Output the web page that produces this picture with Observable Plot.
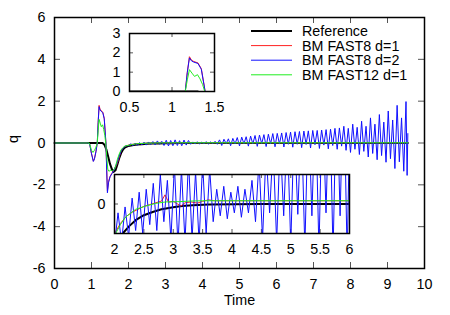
<!DOCTYPE html>
<html>
<head>
<meta charset="utf-8">
<script src="https://cdn.jsdelivr.net/npm/d3@7"></script>
<script src="https://cdn.jsdelivr.net/npm/@observablehq/plot@0.6"></script>
<style>
  html, body { margin: 0; padding: 0; background: #fff; }
  #wrap { position: relative; width: 450px; height: 315px; overflow: hidden; font-family: 'Liberation Sans', Arial, Helvetica, sans-serif; }
  #wrap svg { position: absolute; }
</style>
</head>
<body>
<div id="wrap"></div>
<script>
// ---------------- data ----------------
const seriesNames = ["Reference", "BM FAST8 d=1", "BM FAST8 d=2", "BM FAST12 d=1"];
const seriesColors = ["#000000", "#ff2020", "#1010ff", "#20ee20"];

const refT = [0, 1.30, 1.35, 1.40, 1.45, 1.50, 1.55, 1.60, 1.65, 1.70, 1.75, 1.80, 1.85, 1.90, 2.00, 2.14, 2.25, 2.36, 2.50, 2.65, 2.80, 3.00, 3.15, 3.33, 3.60, 4.00, 4.50, 9.55];
const refQ = [0, 0, -0.08, -0.30, -0.65, -1.00, -1.25, -1.38, -1.30, -1.02, -0.72, -0.48, -0.32, -0.22, -0.14, -0.10, -0.075, -0.055, -0.038, -0.027, -0.018, -0.011, -0.007, -0.0045, -0.002, -0.0005, 0, 0];

const fast8d1T = [0, 0.90, 0.95, 1.00, 1.05, 1.08, 1.12, 1.156, 1.18, 1.205, 1.23, 1.257, 1.305, 1.345, 1.39, 1.41, 1.43, 1.46, 1.50, 1.55, 1.60, 1.65, 1.69, 1.72, 1.76, 1.80, 1.85, 1.90, 2.00, 2.10, 2.20, 2.30, 2.40, 2.50, 2.60, 2.70, 2.80, 2.86, 2.92, 3.00, 3.13, 3.20, 3.30, 3.41, 3.50, 3.60, 3.70, 9.55];
const fast8d1Q = [0, 0, -0.05, -0.50, -0.87, -0.75, -0.40, 0, 1.00, 1.80, 1.62, 1.55, 1.48, 1.18, 0, -1.20, -2.30, -1.85, -1.60, -1.45, -1.30, -1.15, -1.00, -0.85, -0.60, -0.38, -0.24, -0.16, -0.10, -0.066, -0.042, -0.028, -0.018, -0.008, -0.002, 0.004, 0.010, 0.031, 0.006, 0.009, -0.007, 0.004, 0.007, 0.003, 0.009, 0.014, 0.011, 0.011];

const fast8d2T = [0, 0.90, 0.95, 1.00, 1.05, 1.08, 1.12, 1.156, 1.18, 1.205, 1.23, 1.257, 1.305, 1.345, 1.39, 1.41, 1.43, 1.46, 1.50, 1.55, 1.60, 1.65, 1.70, 1.75, 1.80, 1.85, 1.90, 1.95,
  2.00, 2.06, 2.12, 2.18, 2.24, 2.30, 2.36, 2.42, 2.48, 2.54, 2.60, 2.66, 2.72, 2.78, 2.84, 2.90, 2.96,
  3.02, 3.08, 3.14, 3.20, 3.26, 3.32, 3.38, 3.44, 3.50, 3.56, 3.62, 3.68, 3.74, 3.80, 3.86, 3.92, 3.98,
  4.04, 4.10, 4.16, 4.22, 4.28, 4.34, 4.40, 4.46, 4.52, 4.58, 4.64, 4.70, 4.76, 4.82, 4.88, 4.94,
  5.00, 5.06, 5.12, 5.18, 5.24, 5.30, 5.36, 5.42, 5.48, 5.54, 5.60, 5.66, 5.72, 5.78, 5.84, 5.90, 5.96,
  6.02, 6.08, 6.14, 6.20, 6.26, 6.32, 6.38, 6.44, 6.50, 6.56, 6.62, 6.68, 6.74, 6.80, 6.86, 6.92, 6.98,
  7.04, 7.10, 7.16, 7.22, 7.28, 7.34, 7.40, 7.46, 7.52, 7.58, 7.64, 7.70, 7.76, 7.82, 7.88, 7.94,
  8.00, 8.06, 8.12, 8.18, 8.24, 8.30, 8.36, 8.42, 8.48, 8.54, 8.60, 8.66, 8.72, 8.78, 8.84, 8.90, 8.96,
  9.02, 9.08, 9.14, 9.20, 9.26, 9.32, 9.38, 9.44, 9.50, 9.53, 9.55];
const fast8d2Q = [0, 0, -0.05, -0.52, -0.88, -0.76, -0.42, 0, 0.98, 1.74, 1.58, 1.52, 1.45, 1.15, 0, -1.25, -2.38, -1.90, -1.62, -1.47, -1.32, -1.12, -0.90, -0.62, -0.38, -0.25, -0.18, -0.12,
  -0.14, -0.03, -0.13, -0.01, -0.11, 0.02, -0.09, 0.04, -0.10, 0.05, -0.07, 0.07, -0.09, 0.10, -0.06, 0.08, -0.12,
  0.13, -0.14, 0.12, -0.13, 0.15, -0.12, 0.11, -0.13, 0.14, -0.10, 0.12, -0.06, 0.05, -0.04, 0.06, -0.05, 0.04,
  -0.03, 0.06, -0.045, 0.05, -0.03, 0.08, -0.06, 0.15, -0.12, 0.18, -0.03, 0.20, -0.13, 0.22, -0.04, 0.26,
  -0.14, 0.28, -0.035, 0.30, -0.15, 0.33, -0.04, 0.36, -0.16, 0.38, -0.03, 0.40, -0.17, 0.42, -0.04, 0.45, -0.18,
  0.46, -0.05, 0.48, -0.19, 0.50, -0.06, 0.52, -0.20, 0.54, -0.06, 0.55, -0.22, 0.57, -0.07, 0.58, -0.24, 0.60,
  -0.08, 0.60, -0.26, 0.62, -0.10, 0.64, -0.28, 0.66, -0.12, 0.70, -0.30, 0.72, -0.15, 0.80, -0.35, 0.70,
  -0.45, 0.90, -0.30, 0.75, -0.55, 1.04, -0.40, 0.80, -0.67, 1.20, -0.50, 0.90, -0.80, 1.36, -0.60, 1.00, -0.92,
  1.53, -0.75, 1.10, -1.22, 1.80, -0.90, 1.20, -1.35, 1.98, -1.55, 0.45];

const fast12d1T = [0, 0.90, 0.93, 0.96, 1.00, 1.04, 1.08, 1.12, 1.156, 1.18, 1.205, 1.235, 1.265, 1.30, 1.33, 1.36, 1.385, 1.41, 1.44, 1.47, 1.52, 1.57, 1.62, 1.66, 1.70, 1.75, 1.80, 1.85, 1.90, 2.02, 2.10, 2.19, 2.36, 2.53, 2.70, 2.87, 3.10, 3.30, 3.50, 9.55];
const fast12d1Q = [0, 0, 0.01, -0.10, -0.35, -0.45, -0.35, -0.20, 0, 0.60, 1.13, 0.95, 0.78, 0.87, 0.65, 0.36, 0, -0.60, -1.25, -1.35, -1.30, -1.32, -1.25, -1.05, -0.78, -0.52, -0.33, -0.22, -0.15, -0.10, -0.07, -0.044, -0.018, -0.007, 0.002, 0.007, 0.008, 0.010, 0.011, 0.011];

const mainXTicks = [0, 1, 2, 3, 4, 5, 6, 7, 8, 9, 10];
const mainYTicks = [-6, -4, -2, 0, 2, 4, 6];
const topInsetXTicks = [0.5, 1, 1.5];
const topInsetYTicks = [0, 1, 2, 3];
const bottomInsetXTicks = [2, 2.5, 3, 3.5, 4, 4.5, 5, 5.5, 6];
const bottomInsetYTicks = [0];

// ---------------- build ----------------
const rows = (T, Q) => T.map((t, i) => ({t, q: Q[i]}));
const series = [
  {name: seriesNames[0], color: seriesColors[0], width: 2, data: rows(refT, refQ)},
  {name: seriesNames[1], color: seriesColors[1], width: 1, data: rows(fast8d1T, fast8d1Q)},
  {name: seriesNames[2], color: seriesColors[2], width: 1, data: rows(fast8d2T, fast8d2Q)},
  {name: seriesNames[3], color: seriesColors[3], width: 1, data: rows(fast12d1T, fast12d1Q)}
];
const FONT = "'Liberation Sans', Arial, Helvetica, sans-serif";
const FS = 14.3;

function panel({xTicks, yTicks, fw, fh, tickLen, whiteFrame, clip}) {
  const marks = [];
  if (whiteFrame) marks.push(Plot.frame({fill: "white", stroke: null}));
  marks.push(
    Plot.axisX(xTicks, {tickSize: 0, tickPadding: 10, fontSize: FS, label: null, tickFormat: d => String(d)}),
    Plot.axisY(yTicks, {tickSize: 0, tickPadding: 9, fontSize: FS, label: null, tickFormat: d => String(d)}),
    Plot.ruleX(xTicks, {x: d => d, insetTop: fh - tickLen, stroke: "#555", strokeWidth: 1}),
    Plot.ruleX(xTicks, {x: d => d, insetBottom: fh - tickLen, stroke: "#555", strokeWidth: 1}),
    Plot.ruleY(yTicks, {y: d => d, insetRight: fw - tickLen, stroke: "#555", strokeWidth: 1}),
    Plot.ruleY(yTicks, {y: d => d, insetLeft: fw - tickLen, stroke: "#555", strokeWidth: 1})
  );
  for (const s of series) {
    marks.push(Plot.line(s.data, {x: "t", y: "q", stroke: s.color, strokeWidth: s.width, clip: clip}));
  }
  marks.push(Plot.frame({stroke: "black", strokeWidth: 1.5}));
  return marks;
}

const wrap = document.getElementById("wrap");

// main chart
const M = {ml: 54, mt: 17, mr: 26, mb: 47};
const mfw = 450 - M.ml - M.mr, mfh = 315 - M.mt - M.mb;
const mainPlot = Plot.plot({
  width: 450, height: 315,
  marginLeft: M.ml, marginTop: M.mt, marginRight: M.mr, marginBottom: M.mb,
  x: {domain: [0, 10]}, y: {domain: [-6, 6]},
  style: {fontFamily: FONT, fontSize: FS + "px", background: "white", color: "black", overflow: "visible"},
  marks: [
    ...panel({xTicks: mainXTicks, yTicks: mainYTicks, fw: mfw, fh: mfh, tickLen: 6, whiteFrame: false, clip: false}),
    Plot.text(["Time"], {frameAnchor: "bottom", dy: 36, fontSize: FS, fill: "black"}),
    Plot.text(["q"], {frameAnchor: "left", dx: -41, rotate: -90, fontSize: FS, fill: "black"})
  ]
});
mainPlot.style.left = "0px"; mainPlot.style.top = "0px";
wrap.appendChild(mainPlot);

function inset(frameLeft, frameTop, fw, fh, xDomain, yDomain, xTicks, yTicks) {
  const ml = 30, mt = 10, mr = 10, mb = 30;
  const p = Plot.plot({
    width: ml + fw + mr, height: mt + fh + mb,
    marginLeft: ml, marginTop: mt, marginRight: mr, marginBottom: mb,
    x: {domain: xDomain}, y: {domain: yDomain},
    style: {fontFamily: FONT, fontSize: FS + "px", background: "transparent", color: "black", overflow: "visible"},
    marks: panel({xTicks, yTicks, fw, fh, tickLen: 4, whiteFrame: true, clip: true})
  });
  p.style.left = (frameLeft - ml) + "px";
  p.style.top = (frameTop - mt) + "px";
  wrap.appendChild(p);
}
inset(129, 33, 85, 58, [0.5, 1.5], [0, 3], topInsetXTicks, topInsetYTicks);
inset(114, 174, 235, 59, [2, 6], [-0.1, 0.1], bottomInsetXTicks, bottomInsetYTicks);

// legend (inside the main frame, top right)
const leg = d3.select(wrap).append("svg")
  .attr("width", 450).attr("height", 315)
  .style("left", "0px").style("top", "0px").style("pointer-events", "none");
const rowsG = leg.selectAll("g").data(series).join("g")
  .attr("transform", (d, i) => `translate(251, ${31 + i * 14.6})`);
rowsG.append("line").attr("x1", 0).attr("x2", 41).attr("y1", 0).attr("y2", 0)
  .attr("stroke", d => d.color).attr("stroke-width", d => d.width);
rowsG.append("text").attr("x", 51).attr("y", 0).attr("dy", "0.35em")
  .attr("font-family", FONT).attr("font-size", FS).attr("fill", "black")
  .text(d => d.name);
</script>
</body>
</html>
